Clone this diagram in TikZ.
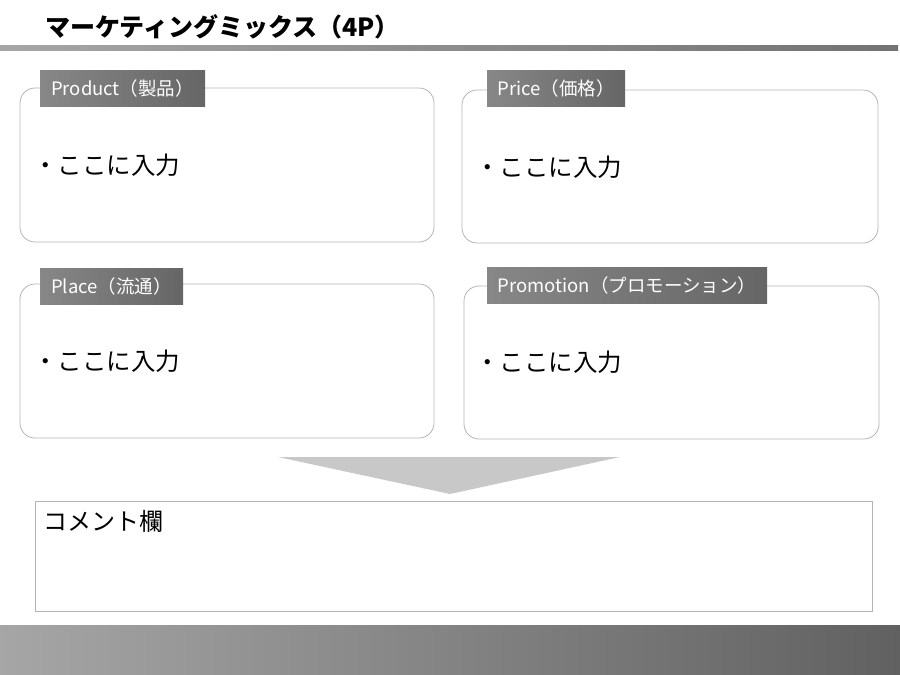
\documentclass[tikz,border=0pt]{standalone}
\usepackage{fontspec}
\setmainfont{Noto Sans CJK JP}
\usetikzlibrary{calc}
\definecolor{framegray}{HTML}{B4B4B4}
\definecolor{arrowgray}{HTML}{C8C8C8}
\tikzset{%
    panel/.style={inner sep=0pt,outer sep=0pt,shape=rectangle,draw=framegray,rounded corners=15pt,line width=0.8pt},
    tag/.style={inner sep=0pt,outer sep=0pt,shape=rectangle,left color=black!47,right color=black!60,text=white,font=\fontsize{18.5}{18.5}\selectfont,minimum height=36pt},
    bullet/.style={anchor=west,inner sep=0pt,font=\fontsize{24.5}{24.5}\selectfont},
}
\begin{document}
\begin{tikzpicture}[x=1pt,y=-1pt]
        \useasboundingbox (0,0) rectangle (900,675);
        % title
        \node (title) [anchor=west,inner sep=0pt,font=\bfseries\fontsize{25}{25}\selectfont] at (45,27) {マーケティングミックス（4P）};
        \shade[left color=black!35,right color=black!55] (0,45) rectangle (898,50);

        % four panels
        \node (product) [panel,anchor=north west,minimum width=414pt,minimum height=154pt] at (20,88) {};
        \node (price) [panel,anchor=north west,minimum width=416pt,minimum height=153pt] at (462,90) {};
        \node (place) [panel,anchor=north west,minimum width=414pt,minimum height=154pt] at (20,284) {};
        \node (promotion) [panel,anchor=north west,minimum width=415pt,minimum height=153pt] at (464,286) {};

        \node (tagproduct) [tag,anchor=north west,minimum width=165pt] at (40,70) {Product（製品）};
        \node (tagprice) [tag,anchor=north west,minimum width=138pt] at (487,70) {Price（価格）};
        \node (tagplace) [tag,anchor=north west,minimum width=143pt] at (40,268) {Place（流通）};
        \node (tagpromotion) [tag,anchor=north west,minimum width=280pt] at (487,267) {Promotion（プロモーション）};

        \node (inproduct) [bullet] at (33,165) {・ここに入力};
        \node (inprice) [bullet] at (475,167) {・ここに入力};
        \node (inplace) [bullet] at (33,361) {・ここに入力};
        \node (inpromotion) [bullet] at (475,362) {・ここに入力};

        % arrow down to comment
        \fill[arrowgray] (278,457) -- (620,457) -- (450,494) -- cycle;

        \node (comment) [draw=framegray,line width=0.8pt,anchor=north west,minimum width=837pt,minimum height=110pt] at (35,501) {};
        \node (commenttext) [anchor=north west,inner sep=0pt,font=\fontsize{24}{24}\selectfont] at (43,510) {コメント欄};

        % footer
        \shade[left color=black!35,right color=black!62] (0,625) rectangle (900,675);
      \end{tikzpicture}
\end{document}
